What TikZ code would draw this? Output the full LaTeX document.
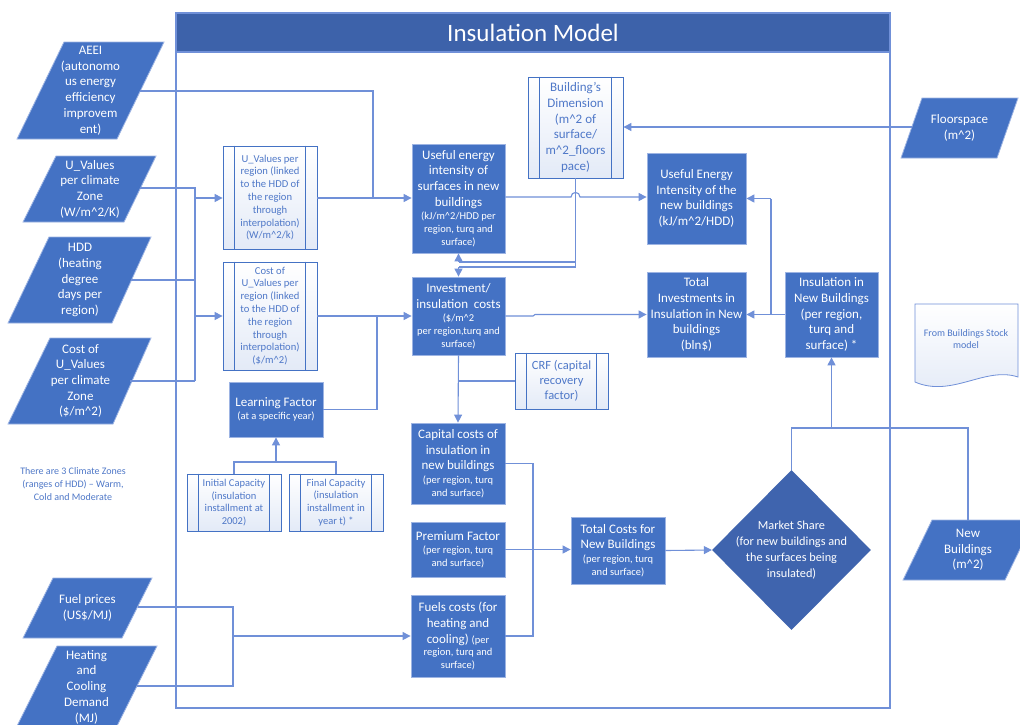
\documentclass[tikz,border=0pt]{standalone}
\usepackage{fontspec}
\setmainfont{Carlito}
\usetikzlibrary{arrows.meta,shapes.geometric}
\definecolor{mainblue}{HTML}{4472C4}
\definecolor{titleblue}{HTML}{3D62AA}
\definecolor{diamblue}{HTML}{3F64AE}
\definecolor{boxborder}{HTML}{9DB4E3}
\definecolor{linecol}{HTML}{7090D8}
\definecolor{procfill}{HTML}{E3EAF7}
\definecolor{proctext}{HTML}{4F78C8}
\newcommand\crt{\textasciicircum}
\newcommand\sm{\fontsize{10.5}{13.5}\selectfont}
\newcommand\md{\fontsize{13}{15.7}\selectfont}
\begin{document}
\begin{tikzpicture}[x=1pt,y=-1pt,
  bluebox/.style={draw=boxborder, fill=mainblue, text=white, align=center, inner sep=0pt, font=\md, line width=0.8pt},
  procbox/.style={draw=mainblue, top color=white, bottom color=procfill, text=proctext, align=center, inner sep=0pt, line width=0.8pt},
  inshape/.style={fill=mainblue, draw=boxborder, line width=0.8pt},
  intext/.style={text=white, align=center, font=\md, inner sep=0pt},
  conn/.style={draw=linecol, line width=1.1pt},
  arr/.style={conn, -{Triangle[length=8pt,width=8pt]}},
  darr/.style={conn, {Triangle[length=8pt,width=8pt]}-{Triangle[length=8pt,width=8pt]}}]
\useasboundingbox (0,0) rectangle (1020,724);
\fill[white] (0,0) rectangle (1020,724);

% frame and title
\draw[linecol, line width=1.1pt] (176,13) rectangle (890,708);
\fill[titleblue] (176,13) rectangle (890,52);
\draw[linecol, line width=1.1pt] (176,13) rectangle (890,52);
\node[text=white, font=\fontsize{25}{30}\selectfont] (title) at (533,32.5) {Insulation Model};

% ---- input parallelograms (left)
\draw[inshape] (17,139) -- (64,42) -- (164,42) -- (117,139) -- cycle;
\node[intext] (aeei) at (90.5,90.5) {AEEI\\(autonomo\\us energy\\efficiency\\improvem\\ent)};
\coordinate (aeeiR) at (140,91);

\draw[inshape] (23,222) -- (56,156) -- (156,156) -- (124,222) -- cycle;
\node[intext] (uval) at (90,189) {U\_Values\\per climate\\Zone\\(W/m\crt2/K)};
\coordinate (uvalR) at (140,188);

\draw[inshape] (8,323) -- (49,237) -- (151,237) -- (112,323) -- cycle;
\node[intext] (hdd) at (80,280) {HDD\\(heating\\degree\\days per\\region)};
\coordinate (hddR) at (131,280);

\draw[inshape] (8,424) -- (50,338) -- (151,338) -- (113,424) -- cycle;
\node[intext] (cuval) at (80.5,381) {Cost of\\U\_Values\\per climate\\Zone\\(\$/m\crt2)};
\coordinate (cuvalR) at (130,381);

\draw[inshape] (23,638) -- (53,578) -- (152,578) -- (122,638) -- cycle;
\node[intext] (fprice) at (87.5,608) {Fuel prices\\(US\$/MJ)};
\coordinate (fpriceR) at (137.5,607);

\draw[inshape] (9.5,741) -- (57,646) -- (157,646) -- (109.5,741) -- cycle;
\node[intext] (hcd) at (86.5,687) {Heating\\and\\Cooling\\Demand\\(MJ)};
\coordinate (hcdR) at (137,686);

% ---- right parallelograms
\draw[inshape] (901,158) -- (922,98) -- (1018,98) -- (997,158) -- cycle;
\node[intext] (floor) at (959.5,128) {Floorspace\\(m\crt2)};
\coordinate (floorL) at (912,127);

\draw[inshape] (903,580) -- (932,520) -- (1034,520) -- (1005,580) -- cycle;
\node[intext] (newb) at (968,550) {New\\Buildings\\(m\crt2)};
\coordinate (newbT) at (968,520);

% ---- note
\node[text=proctext, align=center, font=\fontsize{10}{12.6}\selectfont] (note) at (73,484) {There are 3 Climate Zones\\(ranges of HDD) -- Warm,\\Cold and Moderate};

% ---- document shape
\draw[draw=linecol, line width=0.8pt, top color=white, bottom color=procfill] (915,304) -- (1018,304) -- (1018,377) .. controls (985,366) and (952,398) .. (915,382) -- cycle;
\node[text=proctext, align=center, font=\fontsize{10}{12.7}\selectfont] (doc) at (966,339) {From Buildings Stock\\model};

% ---- process boxes (light)
\node[procbox, minimum width=94pt, minimum height=103pt, font=\fontsize{10.6}{12.8}\selectfont] (ur) at (270,197.5) {U\_Values per\\region (linked\\to the HDD of\\the region\\through\\interpolation)\\(W/m\crt2/k)};
\node[procbox, minimum width=94pt, minimum height=108pt, font=\fontsize{10.6}{12.8}\selectfont] (cr) at (270,316) {Cost of\\U\_Values per\\region (linked\\to the HDD of\\the region\\through\\interpolation)\\(\$/m\crt2)};
\node[procbox, minimum width=95pt, minimum height=101pt, font=\md] (bd) at (575.5,127.5) {Building’s\\Dimension\\(m\crt2 of\\surface/\\m\crt2\_floors\\pace)};
\node[procbox, minimum width=94pt, minimum height=57pt, font=\fontsize{10.5}{12.7}\selectfont] (ic) at (234,502.5) {Initial Capacity\\(insulation\\installment at\\2002)};
\node[procbox, minimum width=94pt, minimum height=57pt, font=\fontsize{10.5}{12.7}\selectfont] (fc) at (336,502.5) {Final Capacity\\(insulation\\installment in\\year t) *};
\node[procbox, minimum width=93pt, minimum height=56pt, font=\fontsize{12.5}{15}\selectfont] (crf) at (561.5,381) {CRF (capital\\recovery\\factor)};
\foreach \n in {ur,cr,bd,ic,fc,crf}{
  \draw[mainblue, line width=0.8pt] ([xshift=12pt]\n.north west) -- ([xshift=12pt]\n.south west);
  \draw[mainblue, line width=0.8pt] ([xshift=-12pt]\n.north east) -- ([xshift=-12pt]\n.south east);
}

% ---- blue boxes
\node[bluebox, minimum width=93pt, minimum height=109pt] (ue) at (458.5,198.5) {Useful energy\\intensity of\\surfaces in new\\buildings\\[-2pt]{\sm (kJ/m\crt2/HDD per}\\[-3pt]{\sm region, turq and}\\[-3pt]{\sm surface)}};
\node[bluebox, minimum width=93pt, minimum height=78pt] (inv) at (458.5,316) {Investment/\\insulation~~costs\\[-2pt]{\sm (\$/m\crt2}\\[-3pt]{\sm per region,turq and}\\[-3pt]{\sm surface)}};
\node[bluebox, minimum width=94pt, minimum height=81pt] (cap) at (458,463.5) {Capital costs of\\insulation in\\new buildings\\[-2pt]{\sm (per region, turq}\\[-3pt]{\sm and surface)}};
\node[bluebox, minimum width=94pt, minimum height=55pt] (prem) at (458,549.5) {Premium Factor\\[-2pt]{\sm (per region, turq}\\[-3pt]{\sm and surface)}};
\node[bluebox, minimum width=94pt, minimum height=82pt] (fuel) at (458,636) {Fuels costs (for\\heating and\\cooling) {\sm (per}\\[-3pt]{\sm region, turq and}\\[-3pt]{\sm surface)}};
\node[bluebox, minimum width=94pt, minimum height=67pt] (tot) at (618,550.5) {Total Costs for\\New Buildings\\[-2pt]{\sm (per region, turq}\\[-3pt]{\sm and surface)}};
\node[bluebox, minimum width=99pt, minimum height=91pt] (uei) at (696.5,198.5) {Useful Energy\\Intensity of the\\new buildings\\(kJ/m\crt2/HDD)};
\node[bluebox, minimum width=99pt, minimum height=85pt] (ti) at (696.5,314.5) {Total\\Investments in\\Insulation in New\\buildings\\(bln\$)};
\node[bluebox, minimum width=93pt, minimum height=85pt] (inb) at (831.5,314.5) {Insulation in\\New Buildings\\(per region,\\turq and\\surface) *};
\node[bluebox, minimum width=94pt, minimum height=55pt] (lf) at (276,409.5) {Learning Factor\\[-2pt]{\sm (at a specific year)}};
\node[diamond, fill=diamblue, minimum width=159pt, minimum height=160pt, inner sep=0pt] (ms) at (791.5,550) {};
\node[text=white, align=center, font=\fontsize{12.3}{16}\selectfont] (mstext) at (ms.center) {Market Share\\(for new buildings and\\the surfaces being\\insulated)};

% ---- connectors
% AEEI
\draw[conn] (aeeiR) -| (373,198);
% U-values bus
\draw[conn] (uvalR) -- (195,188) -- (195,381);
\draw[conn] (hddR) -- (195,280);
\draw[conn] (cuvalR) -- (195,381);
\draw[arr] (195,198) -- (ur.west |- 0,198);
\draw[arr] (195,316) -- (cr.west);
\draw[arr] (ur.east |- 0,198) -- (ue.west |- 0,198);
\draw[arr] (cr.east) -- (inv.west);
\draw[conn] (lf.east) -| (377,316);
% learning factor inputs
\draw[conn] (ic.north) |- (336,462) -- (fc.north);
\draw[arr] (276,462) -- (lf.south);
% building's dimension
\draw[conn] (bd.south) -- (575.5,267) -- (458.5,267);
\draw[arr] (458.5,267) -- (inv.north);
\draw[conn] (575.5,262) -- (458.5,262);
\draw[arr] (458.5,262) -- (ue.south);
% useful surfaces -> UEI with hop
\draw[arr] (ue.east |- 0,197) -- (571,197) .. controls (571,191) and (580,191) .. (580,197) -- (uei.west |- 0,197);
% investment -> total investments
\draw[arr] (inv.east) -- (533,316) -- (535,314.5) -- (ti.west);
% insulation in new buildings
\draw[arr] (inb.west) -- (ti.east);
\draw[conn] (771,314.5) -- (771,198.5);
\draw[arr] (771,198.5) -- (uei.east);
% floorspace
\draw[arr] (floorL) -- (bd.east |- 0,127);
% capital costs
\draw[arr] (inv.south) -- (cap.north);
\draw[conn] (crf.west) -- (458.5,381);
\draw[conn] (cap.east) -- (533,463.5) -- (533,636) -- (fuel.east);
\draw[arr] (prem.east) -- (tot.west |- 0,549.5);
\draw[arr] (tot.east) -- (ms.west);
% market share / new buildings
\draw[conn] (ms.north) |- (968,428) -- (newbT);
\draw[arr] (831.5,428) -- (inb.south);
% fuel prices / demand
\draw[conn] (fpriceR) -| (233,686) -- (hcdR);
\draw[arr] (233,636) -- (fuel.west);
\end{tikzpicture}
\end{document}
